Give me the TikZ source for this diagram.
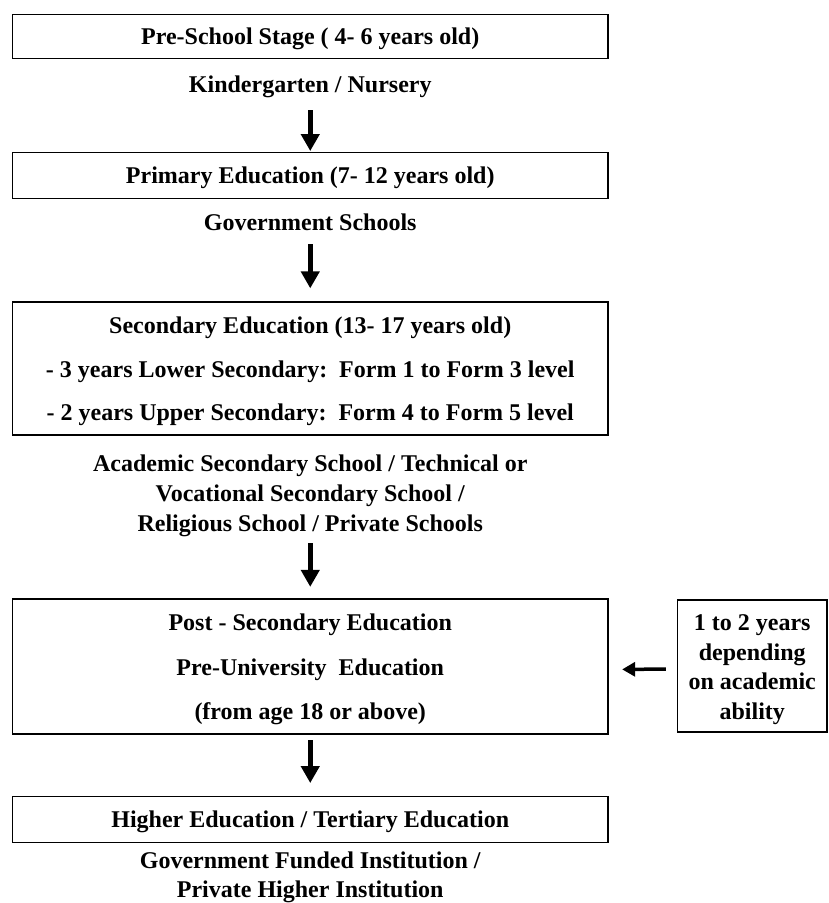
\documentclass[tikz,border=0pt]{standalone}
\usepackage{fontspec}
\setmainfont{Liberation Serif}
\usetikzlibrary{arrows.meta}
\newcommand\myTop{\rule{0pt}{23pt}}
\newcommand\myBot{\rule[-6pt]{0pt}{6pt}}
\begin{document}
\begin{tikzpicture}[x=1pt,y=-1pt,
  txt/.style={inner sep=0pt, align=center, font=\fontsize{24}{30}\selectfont\bfseries},
  stage/.style={txt, draw, line width=1.3pt, minimum width=595.5pt},
  single/.style={stage, minimum height=45pt, text height=15pt, text depth=0pt},
  arr/.style={line width=4.5pt, -{Triangle[length=17pt,width=18pt]}},
  sidearr/.style={line width=3.5pt, -{Triangle[length=13pt,width=14pt]}}
]
\useasboundingbox (0,0) rectangle (828,903);

\node[single, minimum height=44pt, text height=16.5pt] (b1) at (310.25,36.5) {Pre-School Stage ( 4- 6 years old)};
\node[txt, anchor=base] (kg) at (310.25,92) {Kindergarten / Nursery};

\node[single, minimum height=46pt] (b2) at (310.25,175.7) {Primary Education (7- 12 years old)};
\node[txt, anchor=base] (gov) at (310.25,230) {Government Schools};

\node[stage, minimum height=133pt, font=\fontsize{24}{43.5}\selectfont\bfseries] (b3) at (310.25,368.5)
  {\myTop Secondary Education (13- 17 years old)\\
   - 3 years Lower Secondary:\ \ Form 1 to Form 3 level\\
   - 2 years Upper Secondary:\ \ Form 4 to Form 5 level\myBot};

\node[txt] (acad) at (310.25,492.5)
  {\myTop Academic Secondary School / Technical or\\
   Vocational Secondary School /\\
   Religious School / Private Schools\myBot};

\node[stage, minimum height=135pt, font=\fontsize{24}{44.5}\selectfont\bfseries] (b4) at (310.25,666.5)
  {\myTop Post - Secondary Education\\
   Pre-University\ \ Education\\
   (from age 18 or above)\myBot};

\node[txt, draw, line width=1.3pt, minimum width=149.5pt, minimum height=132pt,
      font=\fontsize{24}{29.5}\selectfont\bfseries] (side) at (752.25,666)
  {\rule{0pt}{24pt}1 to 2 years\\ depending\\ on academic\\ ability\myBot};

\node[single, minimum height=46pt] (b5) at (310.25,819.7) {Higher Education / Tertiary Education};

\node[txt, font=\fontsize{24}{29}\selectfont\bfseries] (govf) at (310.25,874)
  {\myTop Government Funded Institution /\\ Private Higher Institution\myBot};

\draw[arr, shorten <=12.5pt, shorten >=1pt] (kg) -- (b2);
\draw[arr, shorten <=14pt, shorten >=13pt] (gov) -- (b3);
\draw[arr, shorten <=6pt, shorten >=11.5pt] (acad) -- (b4);
\draw[arr, shorten <=5.5pt, shorten >=13pt] (b4) -- (b5);
\draw[sidearr, shorten <=11pt, shorten >=13.5pt] ([yshift=-3pt]side.west) -- ([yshift=-3pt]b4.east);
\end{tikzpicture}
\end{document}
